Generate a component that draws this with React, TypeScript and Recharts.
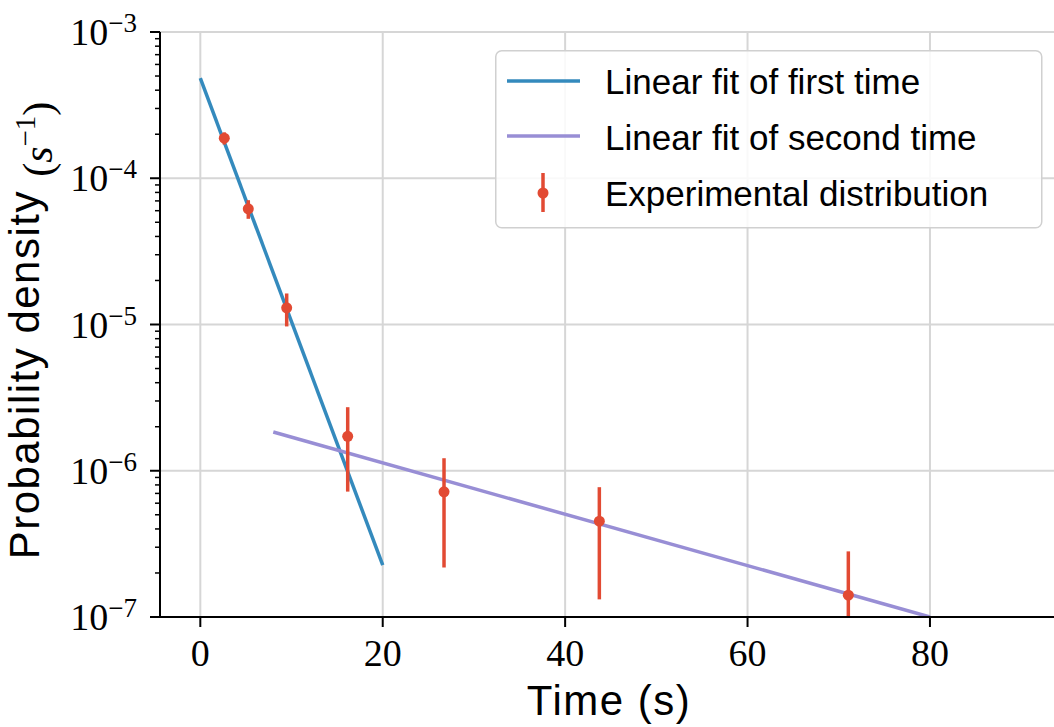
import {
  CartesianGrid,
  ComposedChart,
  ErrorBar,
  Label,
  Legend,
  Line,
  Scatter,
  XAxis,
  YAxis,
} from "recharts";

const fit1X = [0, 20];
const fit1Y = [4.83e-4, 2.26e-7];
const fit2X = [8, 80];
const fit2Y = [1.84e-6, 1.0e-7];

const expX = [2.63, 5.26, 9.47, 16.16, 26.72, 43.75, 71.05];
const expY = [1.88e-4, 6.18e-5, 1.3e-5, 1.72e-6, 7.18e-7, 4.52e-7, 1.41e-7];
// lower / upper error; the last bar runs down to the axis floor
const expErrLow = [1.8e-5, 9e-6, 3.3e-6, 1.0e-6, 5.0e-7, 3.2e-7, 0.41e-7];
const expErrHigh = [1.8e-5, 9e-6, 3.3e-6, 1.0e-6, 5.0e-7, 3.2e-7, 1.4e-7];

const xTicks = [0, 20, 40, 60, 80];
const yMajor = [1e-7, 1e-6, 1e-5, 1e-4, 1e-3];
const yMinorSteps = [2, 3, 4, 5, 6, 7, 8, 9];

const legendNames = [
  "Linear fit of first time",
  "Linear fit of second time",
  "Experimental distribution",
];

const BLUE = "#348ABD";
const PURPLE = "#988ED5";
const RED = "#E24A33";
const GRID = "#d6d6d6";
const SERIF = "'Liberation Serif', 'DejaVu Serif', serif";
const SANS = "'Liberation Sans', Arial, sans-serif";

const fit1 = fit1X.map((x, i) => ({ x, y: fit1Y[i] }));
const fit2 = fit2X.map((x, i) => ({ x, y: fit2Y[i] }));
const points = expX.map((x, i) => ({
  x,
  y: expY[i],
  err: [expErrLow[i], expErrHigh[i]],
}));

const yMinor = yMajor
  .slice(0, -1)
  .flatMap((m) => yMinorSteps.map((s) => m * s));
const yAllTicks = [...yMajor, ...yMinor];

const isMajor = (v: number) =>
  yMajor.some((m) => Math.abs(v - m) / m < 1e-6);

const XTick = ({ x, y, payload }: any) => (
  <text
    x={x}
    y={y + 39}
    textAnchor="middle"
    fontFamily={SERIF}
    fontSize={38}
    fill="#000"
  >
    {payload.value}
  </text>
);

const YTick = ({ x, y, payload }: any) => {
  const major = isMajor(payload.value);
  const exp = Math.round(Math.log10(payload.value));
  return (
    <g>
      <line
        x1={x - (major ? 10 : 5)}
        x2={x}
        y1={y}
        y2={y}
        stroke="#000"
        strokeWidth={major ? 2 : 1.5}
      />
      {major && (
        <text
          x={x - 23}
          y={y + 13}
          textAnchor="end"
          fontFamily={SERIF}
          fontSize={38}
          fill="#000"
        >
          10
          <tspan dy={-13} fontSize={27}>
            {`\u2212${Math.abs(exp)}`}
          </tspan>
        </text>
      )}
    </g>
  );
};

const YLabel = ({ viewBox }: any) => {
  const cx = 39;
  const cy = viewBox.y + viewBox.height / 2 + 6;
  return (
    <text
      x={cx}
      y={cy}
      transform={`rotate(-90, ${cx}, ${cy})`}
      textAnchor="middle"
      fontSize={42}
      fill="#000"
    >
      <tspan fontFamily={SANS} letterSpacing={1.5}>
        Probability density{" "}
      </tspan>
      <tspan fontFamily={SERIF} dy={13}>
        (
      </tspan>
      <tspan fontFamily={SERIF} fontStyle="italic">
        s
      </tspan>
      <tspan fontFamily={SERIF} fontSize={29} dy={-17}>
        {"\u22121"}
      </tspan>
      <tspan fontFamily={SERIF} dy={17}>
        )
      </tspan>
    </text>
  );
};

const XLabel = ({ viewBox }: any) => (
  <text
    x={viewBox.x + viewBox.width / 2 + 2}
    y={715}
    textAnchor="middle"
    fontFamily={SANS}
    fontSize={42}
    letterSpacing={1.5}
    fill="#000"
  >
    Time (s)
  </text>
);

const LegendBox = () => (
  <svg width={548} height={179} style={{ display: "block" }}>
    <rect
      x={0.75}
      y={0.75}
      width={546}
      height={177}
      rx={6}
      fill="rgba(255,255,255,0.85)"
      stroke="#d0d0d0"
      strokeWidth={1.5}
    />
    <line x1={12} x2={85} y1={31} y2={31} stroke={BLUE} strokeWidth={3.5} />
    <line x1={12} x2={85} y1={86} y2={86} stroke={PURPLE} strokeWidth={3.5} />
    <line x1={48} x2={48} y1={123} y2={162} stroke={RED} strokeWidth={3.5} />
    <circle cx={48} cy={143} r={5.5} fill={RED} />
    {legendNames.map((name, i) => (
      <text
        key={name}
        x={110}
        y={44 + i * 56}
        fontFamily={SANS}
        fontSize={35}
        fill="#000"
      >
        {name}
      </text>
    ))}
  </svg>
);

const Dot = ({ cx, cy }: any) => <circle cx={cx} cy={cy} r={5.5} fill={RED} />;

export default function App() {
  return (
    <div style={{ position: "absolute", left: 0, top: 0 }}>
      <ComposedChart
        width={1054}
        height={727}
        margin={{ top: 32, right: 0, bottom: 0, left: 0 }}
      >
        <CartesianGrid
          stroke={GRID}
          strokeWidth={2}
          horizontalValues={yMajor}
          verticalValues={xTicks}
        />
        <XAxis
          dataKey="x"
          type="number"
          domain={[-4.42, 93.6]}
          allowDataOverflow
          ticks={xTicks}
          interval={0}
          height={110}
          tickSize={10}
          tickMargin={0}
          tickLine={{ stroke: "#000", strokeWidth: 2 }}
          axisLine={{ stroke: "#000", strokeWidth: 2 }}
          tick={XTick}
        >
          <Label content={XLabel} />
        </XAxis>
        <XAxis
          xAxisId="top"
          orientation="top"
          type="number"
          domain={[-4.42, 93.6]}
          allowDataOverflow
          height={0}
          tick={false}
          tickLine={false}
          axisLine={{ stroke: "#000", strokeWidth: 2 }}
        />
        <YAxis
          type="number"
          scale="log"
          domain={[1e-7, 1e-3]}
          allowDataOverflow
          ticks={yAllTicks}
          interval={0}
          width={160}
          tickSize={0}
          tickMargin={0}
          tickLine={false}
          axisLine={{ stroke: "#000", strokeWidth: 2 }}
          tick={YTick}
        >
          <Label content={YLabel} />
        </YAxis>
        <Line
          data={fit1}
          dataKey="y"
          type="linear"
          stroke={BLUE}
          strokeWidth={3.5}
          dot={false}
          activeDot={false}
          isAnimationActive={false}
        />
        <Line
          data={fit2}
          dataKey="y"
          type="linear"
          stroke={PURPLE}
          strokeWidth={3.5}
          dot={false}
          activeDot={false}
          isAnimationActive={false}
        />
        <Scatter
          data={points}
          dataKey="y"
          fill={RED}
          shape={Dot}
          isAnimationActive={false}
        >
          <ErrorBar
            dataKey="err"
            direction="y"
            width={0}
            stroke={RED}
            strokeWidth={3.5}
            isAnimationActive={false}
          />
        </Scatter>
        <Legend
          content={LegendBox}
          layout="vertical"
          align="center"
          verticalAlign="middle"
          wrapperStyle={{ top: 50, left: 495, width: 548 }}
        />
      </ComposedChart>
    </div>
  );
}
